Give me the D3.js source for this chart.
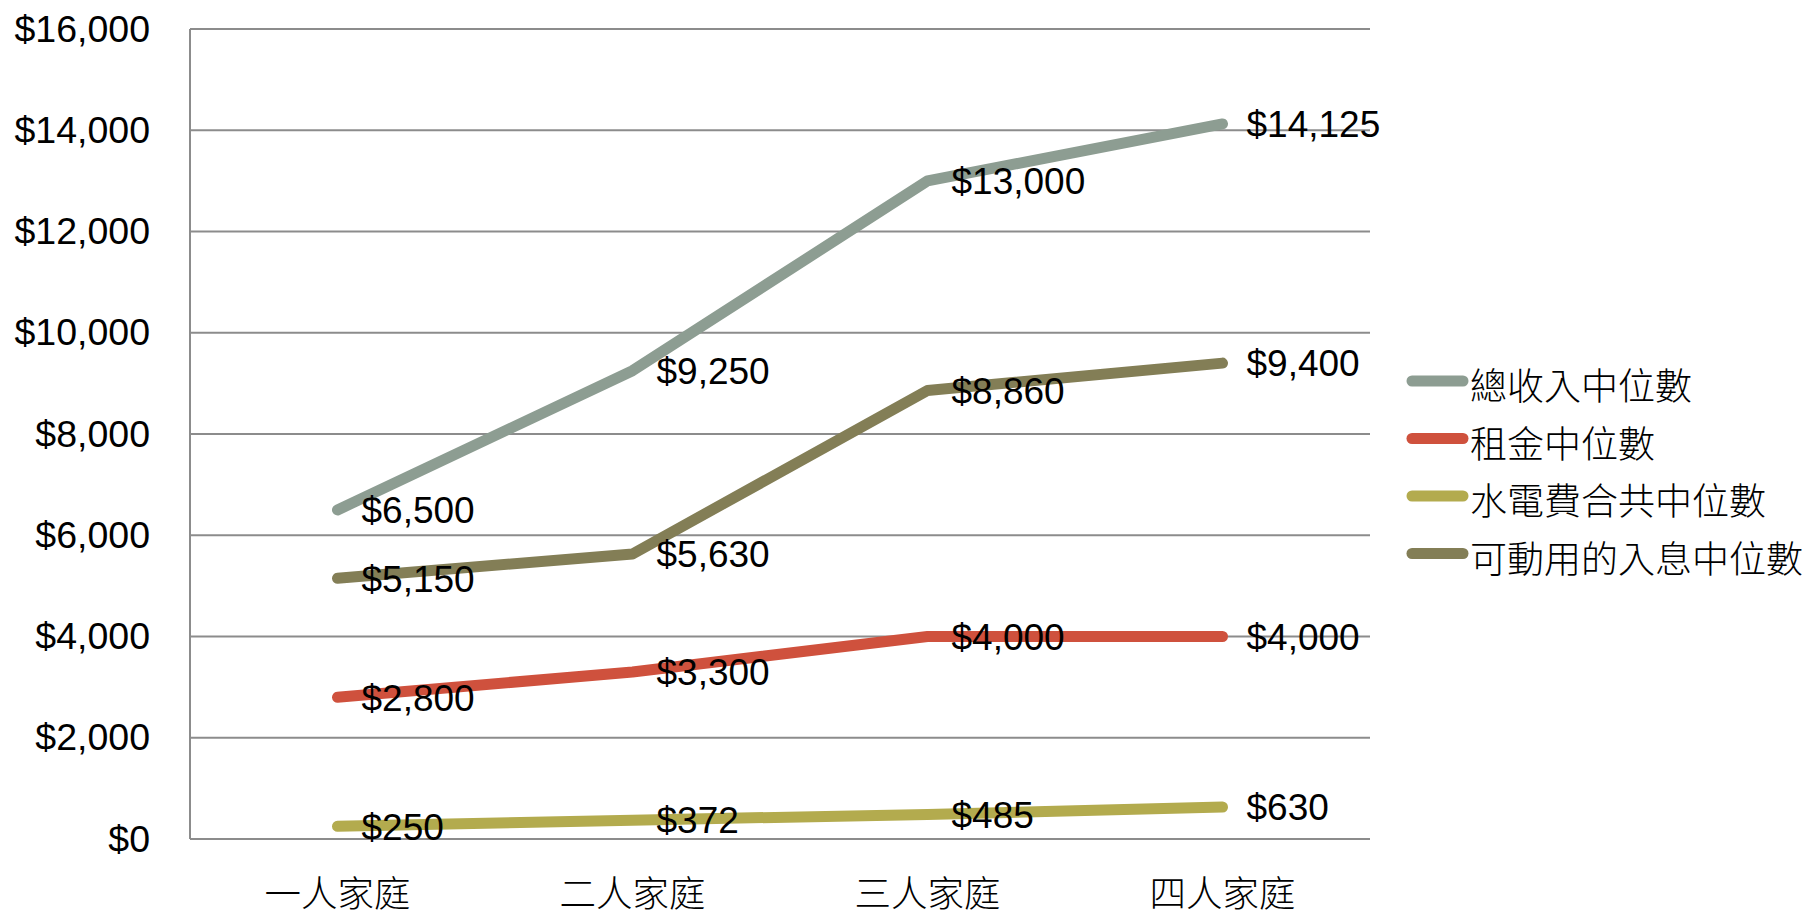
<!DOCTYPE html>
<html>
<head>
<meta charset="utf-8">
<script src="https://cdn.jsdelivr.net/npm/d3@7"></script>
<style>
  html, body { margin: 0; padding: 0; background: #ffffff; }
  svg { display: block; }
</style>
</head>
<body>
<svg id="chart" width="1808" height="912"></svg>
<script>
// Household types (x categories)
const categories = ["一人家庭", "二人家庭", "三人家庭", "四人家庭"];

// Series names
const seriesNames = ["總收入中位數", "租金中位數", "水電費合共中位數", "可動用的入息中位數"];

// Series values (monthly, HK$)
const totalIncome = [6500, 9250, 13000, 14125];
const rent = [2800, 3300, 4000, 4000];
const utilities = [250, 372, 485, 630];
const disposable = [5150, 5630, 8860, 9400];

// Y-axis ticks
const yTicks = [0, 2000, 4000, 6000, 8000, 10000, 12000, 14000, 16000];

const colors = ["#8d9d92", "#cf513d", "#b3ab4e", "#837e56"];

const series = [
  { name: seriesNames[0], values: totalIncome, color: colors[0] },
  { name: seriesNames[1], values: rent, color: colors[1] },
  { name: seriesNames[2], values: utilities, color: colors[2] },
  { name: seriesNames[3], values: disposable, color: colors[3] }
];

const margin = { left: 190, right: 438, top: 29, bottom: 73 };
const W = 1808, H = 912;
const svg = d3.select("#chart");

const x = d3.scaleBand()
  .domain(categories)
  .range([margin.left, W - margin.right])
  .padding(0);

const y = d3.scaleLinear()
  .domain([0, 16000])
  .range([H - margin.bottom, margin.top]);

const numFont = "'Liberation Sans', Arial, sans-serif";
const cjkFont = "'Noto Sans CJK TC', 'Noto Sans CJK SC', sans-serif";
const money = v => "$" + d3.format(",")(v);

// Horizontal gridlines
svg.append("g")
  .selectAll("line")
  .data(yTicks)
  .join("line")
  .attr("x1", margin.left)
  .attr("x2", W - margin.right)
  .attr("y1", d => y(d))
  .attr("y2", d => y(d))
  .attr("stroke", "#8c8c8c")
  .attr("stroke-width", 2);

// Left axis line
svg.append("line")
  .attr("x1", margin.left).attr("x2", margin.left)
  .attr("y1", y(16000)).attr("y2", y(0))
  .attr("stroke", "#8c8c8c")
  .attr("stroke-width", 2);

// Y axis labels
const yAxis = d3.axisLeft(y).tickValues(yTicks).tickFormat(money).tickSize(0).tickPadding(40);
const gy = svg.append("g")
  .attr("transform", `translate(${margin.left},0)`)
  .call(yAxis);
gy.select(".domain").remove();
gy.selectAll("text")
  .attr("font-family", numFont)
  .attr("font-size", 37.5)
  .attr("fill", "#000");

// X axis labels
const xAxis = d3.axisBottom(x).tickSize(0).tickPadding(42);
const gx = svg.append("g")
  .attr("transform", `translate(0,${y(0)})`)
  .call(xAxis);
gx.select(".domain").remove();
gx.selectAll("text")
  .attr("font-family", cjkFont)
  .attr("font-size", 36.5)
  .attr("font-weight", 300)
  .attr("fill", "#000");

const cx = c => x(c) + x.bandwidth() / 2;

const line = d3.line()
  .x((d, i) => cx(categories[i]))
  .y(d => y(d));

// Series lines
svg.append("g")
  .selectAll("path")
  .data(series)
  .join("path")
  .attr("d", d => line(d.values))
  .attr("fill", "none")
  .attr("stroke", d => d.color)
  .attr("stroke-width", 11)
  .attr("stroke-linecap", "round")
  .attr("stroke-linejoin", "round");

// Value labels
series.forEach(s => {
  svg.append("g")
    .selectAll("text")
    .data(s.values)
    .join("text")
    .attr("x", (d, i) => cx(categories[i]) + 24)
    .attr("y", d => y(d))
    .attr("dy", "0.36em")
    .attr("font-family", numFont)
    .attr("font-size", 37)
    .attr("fill", "#000")
    .text(d => money(d));
});

// Legend
const legend = svg.append("g").attr("transform", "translate(1412,381)");
const rows = legend.selectAll("g")
  .data(series)
  .join("g")
  .attr("transform", (d, i) => `translate(0,${i * 57.5})`);
rows.append("line")
  .attr("x1", 0).attr("x2", 51)
  .attr("y1", 0).attr("y2", 0)
  .attr("stroke", d => d.color)
  .attr("stroke-width", 11)
  .attr("stroke-linecap", "round");
rows.append("text")
  .attr("x", 58)
  .attr("y", 0)
  .attr("dy", "0.52em")
  .attr("font-family", cjkFont)
  .attr("font-size", 37)
  .attr("font-weight", 300)
  .attr("fill", "#000")
  .text(d => d.name);
</script>
</body>
</html>
